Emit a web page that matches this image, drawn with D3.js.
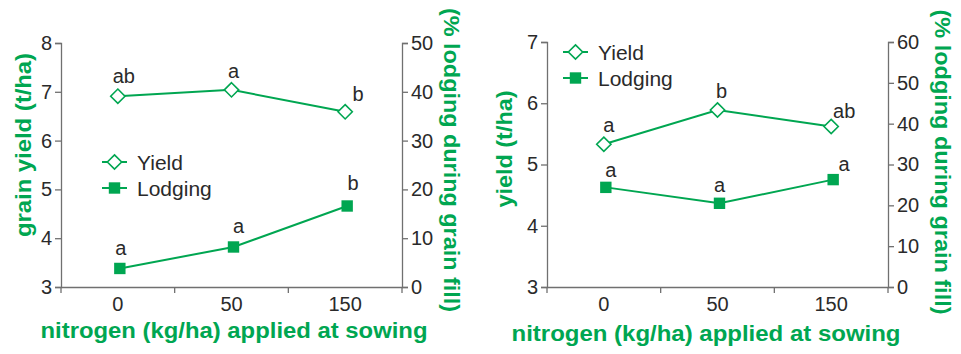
<!DOCTYPE html>
<html>
<head>
<meta charset="utf-8">
<script src="https://cdn.jsdelivr.net/npm/d3@7"></script>
<style>
  html, body { margin: 0; padding: 0; background: #fff; }
  svg { display: block; }
  text { font-family: "Liberation Sans", Arial, sans-serif; }
</style>
</head>
<body>
<svg id="chart" width="961" height="354"></svg>
<script>
// ---------- DATA ----------
const categories = ["0", "50", "150"];

// Left chart
const yieldLeft = [6.91, 7.04, 6.59];
const lodgingLeft = [3.8, 8.2, 16.6];
const yieldLettersLeft = ["ab", "a", "b"];
const lodgingLettersLeft = ["a", "a", "b"];
const leftYTicks = [3, 4, 5, 6, 7, 8];
const leftY2Ticks = [0, 10, 20, 30, 40, 50];

// Right chart
const yieldRight = [5.33, 5.89, 5.62];
const lodgingRight = [24.4, 20.5, 26.3];
const yieldLettersRight = ["a", "b", "ab"];
const lodgingLettersRight = ["a", "a", "a"];
const rightYTicks = [3, 4, 5, 6, 7];
const rightY2Ticks = [0, 10, 20, 30, 40, 50, 60];

const seriesNames = ["Yield", "Lodging"];
const xTitle = "nitrogen (kg/ha) applied at sowing";
const leftYTitle = "grain yield (t/ha)";
const rightYTitle = "yield (t/ha)";
const y2Title = "(% lodging during grain fill)";

// ---------- STYLE ----------
const GREEN = "#00a651";
const AXIS = "#707070";
const TEXT = "#2a2a2a";

const svg = d3.select("#chart");
const fmt = d3.format("d");

function drawChart(cfg) {
  const g = svg.append("g");
  const x = d3.scaleBand().domain(categories).range([cfg.x0, cfg.x1]);
  const y = d3.scaleLinear().domain(d3.extent(cfg.yTicks)).range([cfg.yb, cfg.yt]);
  const y2 = d3.scaleLinear().domain(d3.extent(cfg.y2Ticks)).range([cfg.yb, cfg.yt]);
  const cx = c => x(c) + x.bandwidth() / 2;

  const la = g.append("g").attr("transform", `translate(${cfg.x0},0)`)
    .call(d3.axisLeft(y).tickValues(cfg.yTicks).tickFormat(fmt).tickSizeOuter(0).tickSize(6).tickPadding(3));
  const ra = g.append("g").attr("transform", `translate(${cfg.x1},0)`)
    .call(d3.axisRight(y2).tickValues(cfg.y2Ticks).tickFormat(fmt).tickSizeOuter(0).tickSize(6).tickPadding(3));
  const ba = g.append("g").attr("transform", `translate(0,${cfg.yb})`)
    .call(d3.axisBottom(x).tickSize(0).tickSizeOuter(0).tickPadding(10));
  [la, ra, ba].forEach(a => {
    a.selectAll("path.domain").attr("stroke", AXIS).attr("stroke-width", 1.3);
    a.selectAll(".tick line").attr("stroke", AXIS).attr("stroke-width", 1.3);
    a.selectAll(".tick text").attr("fill", TEXT).attr("font-size", 20)
      .attr("font-family", "Liberation Sans, Arial, sans-serif");
  });
  const bounds = categories.map(c => x(c)).concat([x.range()[1]]);
  g.append("g").selectAll("line").data(bounds).join("line")
    .attr("x1", d => d).attr("x2", d => d)
    .attr("y1", cfg.yb).attr("y2", cfg.yb + 6)
    .attr("stroke", AXIS).attr("stroke-width", 1.3);

  const lineY = d3.line().x((d, i) => cx(categories[i])).y(d => y(d));
  const lineL = d3.line().x((d, i) => cx(categories[i]) + 2).y(d => y2(d));
  g.append("path").datum(cfg.yieldVals).attr("d", lineY)
    .attr("fill", "none").attr("stroke", GREEN).attr("stroke-width", 2);
  g.append("path").datum(cfg.lodgingVals).attr("d", lineL)
    .attr("fill", "none").attr("stroke", GREEN).attr("stroke-width", 2);

  const diamond = d3.symbol().type(d3.symbolDiamond2).size(130);
  const square = d3.symbol().type(d3.symbolSquare).size(130);

  g.append("g").selectAll("path").data(cfg.yieldVals).join("path")
    .attr("d", diamond)
    .attr("transform", (d, i) => `translate(${cx(categories[i])},${y(d)})`)
    .attr("fill", "#fff").attr("stroke", GREEN).attr("stroke-width", 1.6);
  g.append("g").selectAll("path").data(cfg.lodgingVals).join("path")
    .attr("d", square)
    .attr("transform", (d, i) => `translate(${cx(categories[i]) + 2},${y2(d)})`)
    .attr("fill", GREEN);

  g.append("g").selectAll("text").data(cfg.yieldLetters).join("text")
    .attr("x", (d, i) => cx(categories[i]) + cfg.yLetterOff[i][0])
    .attr("y", (d, i) => y(cfg.yieldVals[i]) + cfg.yLetterOff[i][1])
    .attr("text-anchor", "middle").attr("font-size", 20).attr("fill", TEXT).text(d => d);
  g.append("g").selectAll("text").data(cfg.lodgingLetters).join("text")
    .attr("x", (d, i) => cx(categories[i]) + cfg.lLetterOff[i][0])
    .attr("y", (d, i) => y2(cfg.lodgingVals[i]) + cfg.lLetterOff[i][1])
    .attr("text-anchor", "middle").attr("font-size", 20).attr("fill", TEXT).text(d => d);

  const lg = g.append("g").attr("transform", `translate(${cfg.legX},${cfg.legY})`);
  seriesNames.forEach((name, i) => {
    const yy = i * 26;
    lg.append("line").attr("x1", 0).attr("x2", 25).attr("y1", yy).attr("y2", yy)
      .attr("stroke", GREEN).attr("stroke-width", 2);
    lg.append("path").attr("d", i === 0 ? diamond : square)
      .attr("transform", `translate(12.5,${yy})`)
      .attr("fill", i === 0 ? "#fff" : GREEN)
      .attr("stroke", i === 0 ? GREEN : "none").attr("stroke-width", 1.6);
    lg.append("text").attr("x", 35).attr("y", yy + 7.5).attr("font-size", 21)
      .attr("fill", TEXT).text(name);
  });

  const tstyle = t => t.attr("fill", GREEN).attr("font-weight", "bold").attr("font-size", 22)
    .attr("text-anchor", "middle").attr("lengthAdjust", "spacingAndGlyphs");
  g.append("text").call(tstyle).attr("x", cfg.xtX).attr("y", cfg.xtY)
    .attr("textLength", cfg.xtLen).text(xTitle);
  g.append("text").call(tstyle)
    .attr("transform", `translate(${cfg.ytX},${cfg.ytY}) rotate(-90)`)
    .attr("textLength", cfg.ytLen).text(cfg.yTitle);
  g.append("text").call(tstyle)
    .attr("transform", `translate(${cfg.y2tX},${cfg.y2tY}) rotate(90)`)
    .attr("textLength", cfg.y2tLen).text(y2Title);
}

drawChart({
  x0: 61, x1: 402, yt: 43, yb: 287,
  yTicks: leftYTicks, y2Ticks: leftY2Ticks,
  yieldVals: yieldLeft, lodgingVals: lodgingLeft,
  yieldLetters: yieldLettersLeft, lodgingLetters: lodgingLettersLeft,
  yLetterOff: [[6, -13], [2, -12], [13, -11]],
  lLetterOff: [[3, -13], [7, -14], [8, -16]],
  legX: 102, legY: 162,
  yTitle: leftYTitle,
  xtX: 234, xtY: 338, xtLen: 387,
  ytX: 31, ytY: 145, ytLen: 184,
  y2tX: 444, y2tY: 160, y2tLen: 304
});

drawChart({
  x0: 547, x1: 888, yt: 42, yb: 287,
  yTicks: rightYTicks, y2Ticks: rightY2Ticks,
  yieldVals: yieldRight, lodgingVals: lodgingRight,
  yieldLetters: yieldLettersRight, lodgingLetters: lodgingLettersRight,
  yLetterOff: [[5, -12], [4, -12], [13, -9]],
  lLetterOff: [[7, -10], [2, -11], [13, -9]],
  legX: 563, legY: 52,
  yTitle: rightYTitle,
  xtX: 706, xtY: 341, xtLen: 389,
  ytX: 512, ytY: 149, ytLen: 117,
  y2tX: 935, y2tY: 162, y2tLen: 305
});
</script>
</body>
</html>
